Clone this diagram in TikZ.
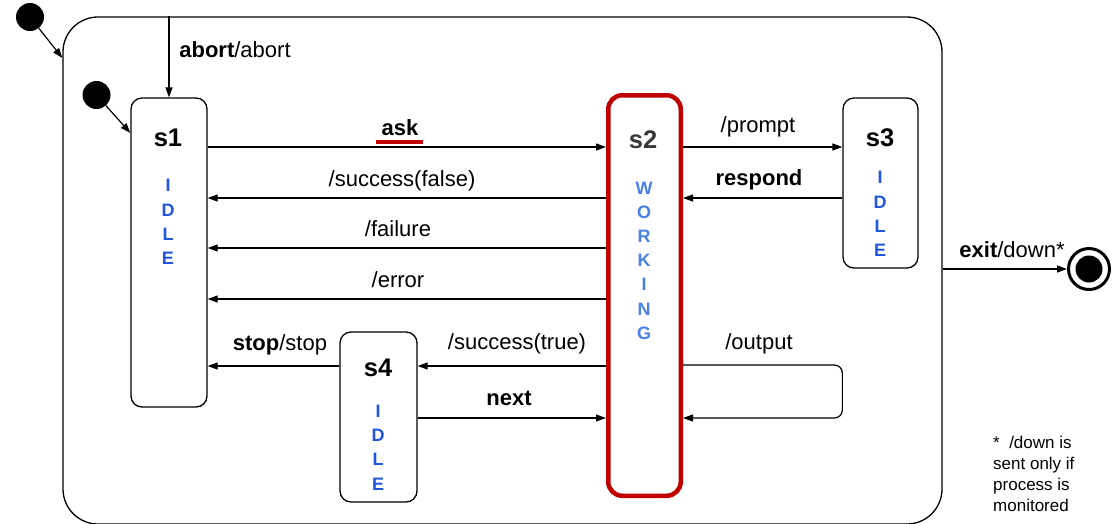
\documentclass[tikz,border=0pt]{standalone}
\usepackage{fontspec}
\setmainfont{Liberation Sans}
\usetikzlibrary{arrows.meta}
\definecolor{dred}{HTML}{C00000}
\definecolor{idleblue}{HTML}{1F55E0}
\definecolor{workblue}{HTML}{4A80E6}
\definecolor{sgray}{HTML}{383838}
\begin{document}
\begin{tikzpicture}[x=1pt,y=-1pt,
  arr/.style={draw, line width=1.2pt, -{Triangle[length=10pt,width=7pt]}},
  statebox/.style={draw, line width=1.3pt, rounded corners=11pt, inner sep=0pt},
  lbl/.style={font=\fontsize{22}{26}\selectfont, inner sep=0pt},
  sname/.style={font=\fontsize{25.5}{30}\selectfont\bfseries, inner sep=0pt},
  letters/.style={font=\fontsize{18}{24.2}\selectfont\bfseries, inner sep=0pt, align=center, text=idleblue},
  dot/.style={circle, fill=black, inner sep=0pt, minimum size=28pt}
]
\useasboundingbox (0,0) rectangle (1115,523);

% outer composite state
\node[draw, line width=1.3pt, rounded corners=35pt, inner sep=0pt,
      minimum width=879pt, minimum height=507pt] (outer) at (502.5,270.5) {};

% states
\node[statebox, minimum width=76pt, minimum height=309pt] (s1) at (169,252.5) {};
\node[draw=dred, line width=4.5pt, rounded corners=14pt, inner sep=0pt,
      minimum width=72.5pt, minimum height=400.5pt] (s2) at (644.5,295.5) {};
\node[statebox, minimum width=75pt, minimum height=170pt] (s3) at (880.5,183) {};
\node[statebox, minimum width=77pt, minimum height=170pt] (s4) at (378.5,417) {};

% state names and texts
\node[sname] (s1n) at (168,138) {s1};
\node[sname, text=sgray] (s2n) at (643,140) {s2};
\node[sname] (s3n) at (880,138) {s3};
\node[sname] (s4n) at (378,368) {s4};
\node[letters] (s1t) at (168,222) {I\\D\\L\\E};
\node[letters, text=workblue] (s2t) at (644,260.5) {W\\O\\R\\K\\I\\N\\G};
\node[letters] (s3t) at (880,214) {I\\D\\L\\E};
\node[letters] (s4t) at (378,447.5) {I\\D\\L\\E};

% initial and final pseudo-states
\node[dot] (d1) at (30,17) {};
\node[dot] (d2) at (96.5,95) {};
\node[circle, draw, line width=3pt, inner sep=0pt, minimum size=41pt] (fin) at (1089,269) {};
\node[circle, fill=black, inner sep=0pt, minimum size=27pt] (fini) at (fin.center) {};

% transitions
\draw[arr] (d1) -- (outer.west |- 0,58);
\draw[arr] (d2) -- (s1.west |- 0,133);
\draw[arr] (outer.north -| s1.north) -- (s1.north);
\draw[arr] (s1.east |- 0,147) -- (s2.west |- 0,147);
\draw[arr] (s2.west |- 0,198) -- (s1.east |- 0,198);
\draw[arr] (s2.west |- 0,248) -- (s1.east |- 0,248);
\draw[arr] (s2.west |- 0,299) -- (s1.east |- 0,299);
\draw[arr] (s2.east |- 0,147) -- (s3.west |- 0,147);
\draw[arr] (s3.west |- 0,198) -- (s2.east |- 0,198);
\draw[arr] (s4.west |- 0,366) -- (s1.east |- 0,366);
\draw[arr] (s2.west |- 0,366) -- (s4.east |- 0,366);
\draw[arr] (s4.east |- 0,418) -- (s2.west |- 0,418);
\draw[arr, rounded corners=8pt] (s2.east |- 0,365) -- (s3.west |- 0,365) -- (s3.west |- 0,418) -- (s2.east |- 0,418);
\draw[arr] (outer.east |- fin) -- (fin.west);

% labels
\node[lbl] (labort) at (235,50) {\textbf{abort}/abort};
\node[lbl] (lask) at (400,128) {\textbf{ask}};
\draw[dred, line width=4pt] (376,142) -- (423,142);
\node[lbl] (lsf) at (402,181) {/success(false)};
\node[lbl] (lfail) at (398,229) {/failure};
\node[lbl] (lerr) at (398,280) {/error};
\node[lbl] (lprompt) at (758,127) {/prompt};
\node[lbl] (lresp) at (759,180) {\textbf{respond}};
\node[lbl] (lout) at (759,344) {/output};
\node[lbl] (lst) at (517,344) {/success(true)};
\node[lbl] (lnext) at (509,398) {\textbf{next}};
\node[lbl] (lstop) at (280,345) {\textbf{stop}/stop};
\node[lbl] (lexit) at (1012,250) {\textbf{exit}/down*};

% note
\node[anchor=north west, align=left, inner sep=0pt, font=\fontsize{17}{21}\selectfont] (note) at (993,436)
  {*~~/down is\\sent only if\\process is\\monitored};
\end{tikzpicture}
\end{document}
